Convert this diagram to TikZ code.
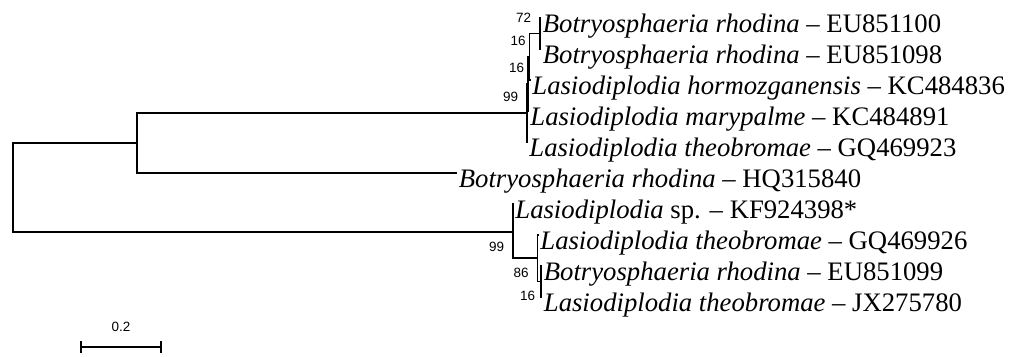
\documentclass[tikz,border=0pt]{standalone}
\usepackage{fontspec}
\setmainfont{Liberation Serif}
\newfontfamily\bootfont{Liberation Sans}
\usepackage{tikz}
\usetikzlibrary{arrows.meta, positioning}

\begin{document}
\begin{tikzpicture}[x=1bp, y=-1bp, line width=1.8bp]

\tikzstyle{taxon} = [anchor=base west, inner sep=0pt, xshift=1bp, yshift=-14bp, font=\fontsize{26.8}{28}\selectfont]
\tikzstyle{boot} = [inner sep=0pt, font=\bootfont\fontsize{13.5}{15}\selectfont]

\useasboundingbox (0,0) rectangle (1012,356);

% Internal nodes
\coordinate (root) at (13,187);
\coordinate (up) at (137,143);
\coordinate (n99a) at (527,113);
\coordinate (n16b) at (528,84);
\coordinate (n16a) at (529.5,56.75);
\coordinate (n72) at (540,33.5);
\coordinate (n99b) at (513,232);
\coordinate (n86) at (537.5,258.25);
\coordinate (n16c) at (541,281.5);

% Tips
\coordinate (t1) at (541,18);
\coordinate (t2) at (541,49);
\coordinate (t3) at (530.5,80);
\coordinate (t4) at (528.5,111);
\coordinate (t5) at (527.5,142);
\coordinate (t6) at (457,173);
\coordinate (t7) at (513.5,204);
\coordinate (t8) at (538.5,235);
\coordinate (t9) at (542,266);
\coordinate (t10) at (542,297);

\node[taxon] (l1) at (t1) {\textit{Botryosphaeria rhodina} -- EU851100};
\node[taxon] (l2) at (t2) {\textit{Botryosphaeria rhodina} -- EU851098};
\node[taxon] (l3) at (t3) {\textit{Lasiodiplodia hormozganensis} -- KC484836};
\node[taxon] (l4) at (t4) {\textit{Lasiodiplodia marypalme} -- KC484891};
\node[taxon] (l5) at (t5) {\textit{Lasiodiplodia theobromae} -- GQ469923};
\node[taxon] (l6) at (t6) {\textit{Botryosphaeria rhodina} -- HQ315840};
\node[taxon] (l7) at (t7) {\textit{Lasiodiplodia} sp. -- KF924398*};
\node[taxon] (l8) at (t8) {\textit{Lasiodiplodia theobromae} -- GQ469926};
\node[taxon] (l9) at (t9) {\textit{Botryosphaeria rhodina} -- EU851099};
\node[taxon] (l10) at (t10) {\textit{Lasiodiplodia theobromae} -- JX275780};

% Bootstrap values
\node[boot, above left=10bp and 8bp of n72] (b72) {72};
\node[boot, above left=10bp and 3bp of n16a] (b16a) {16};
\node[boot, above left=10bp and 3bp of n16b] (b16b) {16};
\node[boot, above left=10bp and 8bp of n99a] (b99a) {99};
\node[boot, below left=9bp and 8bp of n99b] (b99b) {99};
\node[boot, below left=9bp and 8bp of n86] (b86) {86};
\node[boot, below left=9bp and 5bp of n16c] (b16c) {16};

% Connections
\draw (root) |- (up);
\draw (root) |- (n99b);
\draw (up) |- (n99a);
\draw (up) |- (t6);
\draw (n99a) |- (n16b);
\draw (n99a) |- (t5);
\draw (n16b) |- (n16a);
\draw (n16b) |- (t4);
\draw (n16a) |- (n72);
\draw (n16a) |- (t3);
\draw (n72) |- (t1);
\draw (n72) |- (t2);
\draw (n99b) |- (t7);
\draw (n99b) |- (n86);
\draw (n86) |- (t8);
\draw (n86) |- (n16c);
\draw (n16c) |- (t9);
\draw (n16c) |- (t10);

% Scale bar
\coordinate (s0) at (80,347);
\coordinate (s1) at (162,347);
\coordinate (smid) at (121,347);
\draw[{Bar[width=12bp]}-{Bar[width=12bp]}] (s0) -- (s1);
\node[boot, above=14bp of smid] (scale) {0.2};

\end{tikzpicture}
\end{document}
